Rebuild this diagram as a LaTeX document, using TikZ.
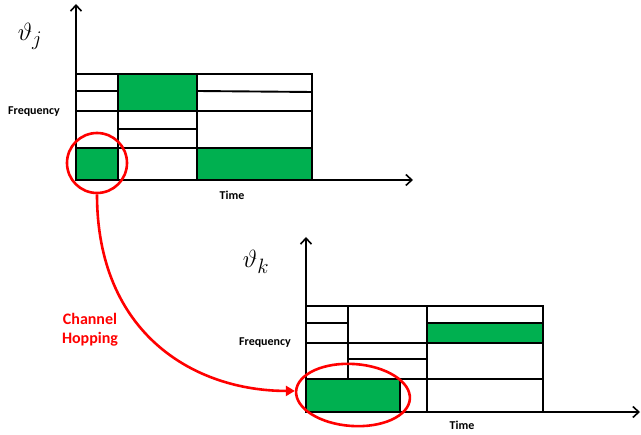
\documentclass[tikz,border=0pt]{standalone}
\usepackage{fontspec}
\setmainfont{Carlito}
\usetikzlibrary{arrows.meta,shapes.geometric}
\definecolor{ofgreen}{HTML}{00B050}
\definecolor{hopred}{HTML}{FF0000}
\begin{document}
\begin{tikzpicture}[x=1pt,y=-1pt,
  grid/.style={draw=black,line width=1.9pt},
  cell/.style={fill=ofgreen,draw=black,line width=1.9pt},
  axis/.style={draw=black,line width=1.6pt,-{Straight Barb[length=6pt,width=11pt,line width=1.6pt]}},
  lbl/.style={font=\fontsize{12}{14}\selectfont\bfseries,inner sep=0pt},
  greek/.style={font=\fontsize{28}{31}\selectfont,inner sep=0pt},
  hop/.style={draw=hopred,line width=2.6pt},
  hoptext/.style={text=hopred,font=\fontsize{16}{19}\selectfont\bfseries,align=center,inner sep=0pt}]
\useasboundingbox (0,0) rectangle (641,435);

% ---------- top chart ----------
\coordinate (ja) at (76,180);
\coordinate (jy) at (76,4);
\coordinate (jx) at (413,180);
% green cells
\path[cell] (76,148) rectangle (118,180);
\path[cell] (118,74) rectangle (197,111);
\path[cell] (197,148) rectangle (312,180);
% frame and columns
\draw[grid] (76,74) rectangle (312,180);
\draw[grid] (118,74) -- (118,180);
\draw[grid] (197,74) -- (197,180);
% rows column 1
\draw[grid] (76,91) -- (118,91);
\draw[grid] (76,111) -- (118,111);
\draw[grid] (76,148) -- (118,148);
% rows column 2
\draw[grid] (118,129) -- (197,129);
\draw[grid] (118,148) -- (197,148);
% rows column 3
\draw[grid] (197,91) -- (312,92);
\draw[grid] (197,111) -- (312,111);
\draw[grid] (197,148) -- (312,148);
% axes
\draw[axis] (ja) -- (jy);
\draw[axis] (ja) -- (jx);
\node[lbl] (jfreq) at (34,112) {Frequency};
\node[lbl] (jtime) at (232,195) {Time};
\node[greek] (jname) at (30,36) {$\vartheta_j$};

% ---------- bottom chart ----------
\coordinate (ka) at (306,412);
\coordinate (ky) at (306,237);
\coordinate (kx) at (640,412);
\path[cell] (306,379) rectangle (400,412);
\path[cell] (427,323) rectangle (543,343);
\draw[grid] (306,306) rectangle (543,412);
\draw[grid] (348,306) -- (348,379);
\draw[grid] (427,306) -- (427,412);
\draw[grid] (400,379) -- (400,412);
% rows column 1
\draw[grid] (306,323) -- (348,323);
\draw[grid] (306,343) -- (348,343);
\draw[grid] (306,379) -- (348,379);
% rows column 2
\draw[grid] (348,343) -- (427,343);
\draw[grid] (348,359) -- (427,359);
\draw[grid] (348,379) -- (427,379);
% rows column 3
\draw[grid] (427,343) -- (543,343);
\draw[grid] (427,379) -- (543,379);
\draw[axis] (ka) -- (ky);
\draw[axis] (ka) -- (kx);
\node[lbl] (kfreq) at (265,343) {Frequency};
\node[lbl] (ktime) at (462,425) {Time};
\node[greek] (kname) at (256,262) {$\vartheta_k$};

% ---------- channel hopping ----------
\node[hop,circle,minimum size=60pt,inner sep=0pt] (hopA) at (97,163) {};
\node[hop,ellipse,minimum width=114pt,minimum height=62pt,inner sep=0pt,rotate=-4] (hopB) at (353,395) {};
\draw[hop,-{Triangle[length=9pt,width=10pt]}] (hopA.south) .. controls +(0,140) and +(-100,0) .. (hopB.west);
\node[hoptext] (hoplbl) at (90,330) {Channel\\Hopping};
\end{tikzpicture}
\end{document}
